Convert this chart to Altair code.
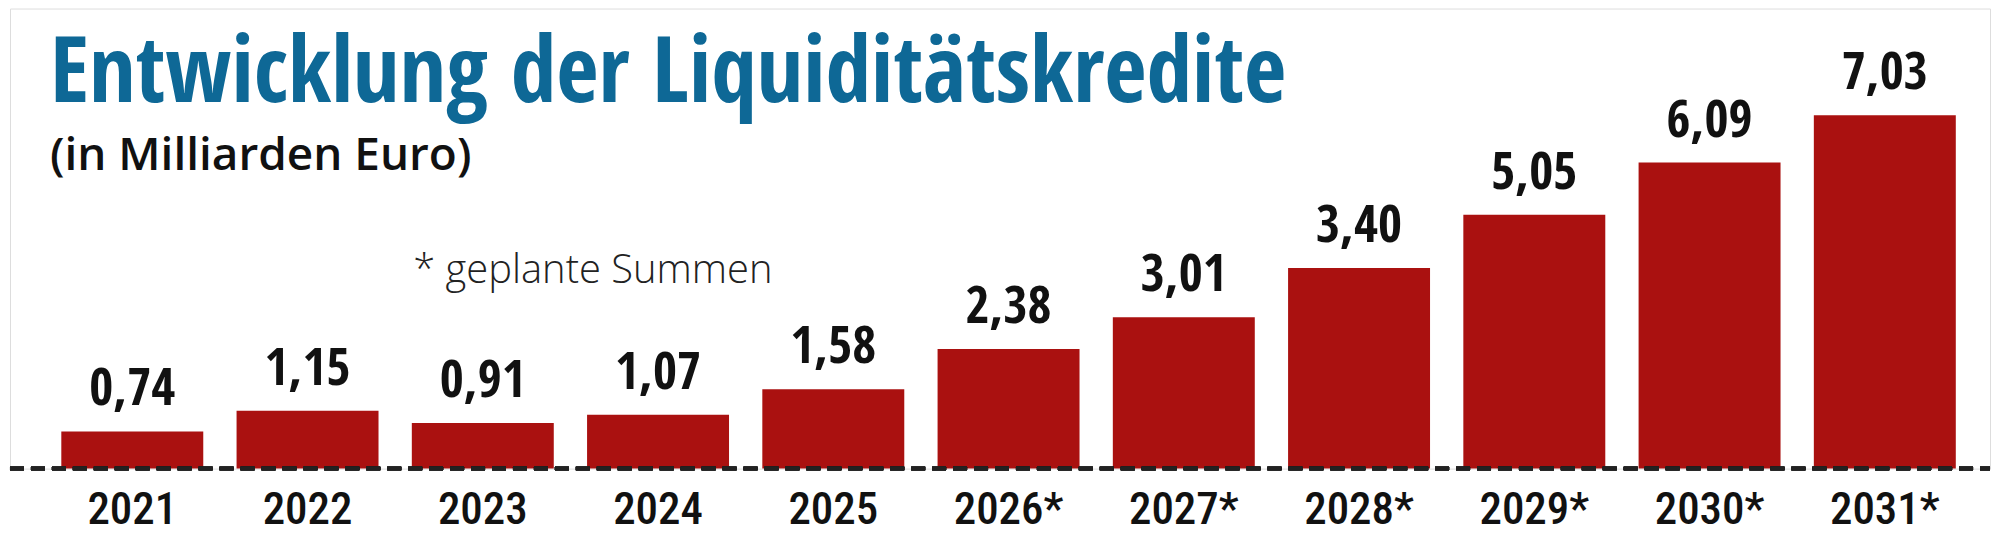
import altair as alt
import pandas as pd

years = ["2021", "2022", "2023", "2024", "2025", "2026*", "2027*", "2028*", "2029*", "2030*", "2031*"]
# bar heights as drawn (the 2028 bar is drawn taller than its printed label)
bar_heights = [0.74, 1.15, 0.91, 1.07, 1.58, 2.38, 3.01, 3.99, 5.05, 6.09, 7.03]
value_labels = ["0,74", "1,15", "0,91", "1,07", "1,58", "2,38", "3,01", "3,40", "5,05", "6,09", "7,03"]

title_text = "Entwicklung der Liquiditätskredite"
subtitle_text = "(in Milliarden Euro)"
note_text = "* geplante Summen"

COND = ("'Open Sans Condensed', 'Noto Sans Condensed', 'Roboto Condensed', "
        "'DejaVu Sans Condensed', 'Liberation Sans Narrow', 'Arial Narrow', sans-serif")
COND_MED = ("'Noto Sans Condensed Medium', 'Noto Sans Condensed SemiBold', 'Noto Sans Condensed', "
            "'Roboto Condensed', 'DejaVu Sans Condensed', 'Liberation Sans Narrow', "
            "'Open Sans Condensed', sans-serif")
W, H = 1984, 461

df = pd.DataFrame({"year": years, "value": bar_heights, "lab": value_labels})

x = alt.X("year:N", sort=years, title=None,
          scale=alt.Scale(paddingInner=0.19, paddingOuter=0.244, align=0.6),
          axis=alt.Axis(domain=False, ticks=False, labelAngle=0, labelPadding=55,
                        labelBaseline="alphabetic",
                        labelFont=COND_MED, labelFontSize=45, labelColor="#111",
                        labelFontWeight=500))
y = alt.Y("value:Q", title=None, scale=alt.Scale(domain=[0, 9.155], nice=False, zero=True),
          axis=None)

base = alt.Chart(df)

bars = base.mark_bar(color="#aa1110").encode(x=x, y=y)

labels = base.mark_text(font=COND, fontSize=52, fontWeight="bold", color="#111",
                        baseline="alphabetic", dy=-26).encode(x=x, y=y, text="lab:N")

line = base.mark_rule(color="#222", strokeWidth=3.5, strokeDash=[14, 7]).encode(
    x=alt.value(0), x2=alt.value(W), y=alt.value(H)
)

def free_text(txt, xpos, ypos, **kw):
    return alt.Chart(pd.DataFrame({"t": [txt]})).mark_text(
        align="left", baseline="alphabetic", **kw
    ).encode(x=alt.value(xpos), y=alt.value(ypos), text="t:N")

title = free_text(title_text, 40, 94, font=COND, fontSize=92, fontWeight="bold", color="#0e6896")
subtitle = free_text(subtitle_text, 40, 162, font="Open Sans", fontSize=46, fontWeight=600, color="#111")
note = free_text(note_text, 404, 275, font="Open Sans", fontSize=40, fontWeight=300, color="#222")

chart = (
    alt.layer(bars, line, labels, title, subtitle, note)
    .properties(width=W, height=H, padding={"left": 0, "top": 0, "right": 0, "bottom": 20})
    .configure_view(stroke=None)
    .configure(background="white")
)

chart.save("out.html", embed_options={"renderer": "svg", "actions": False})
